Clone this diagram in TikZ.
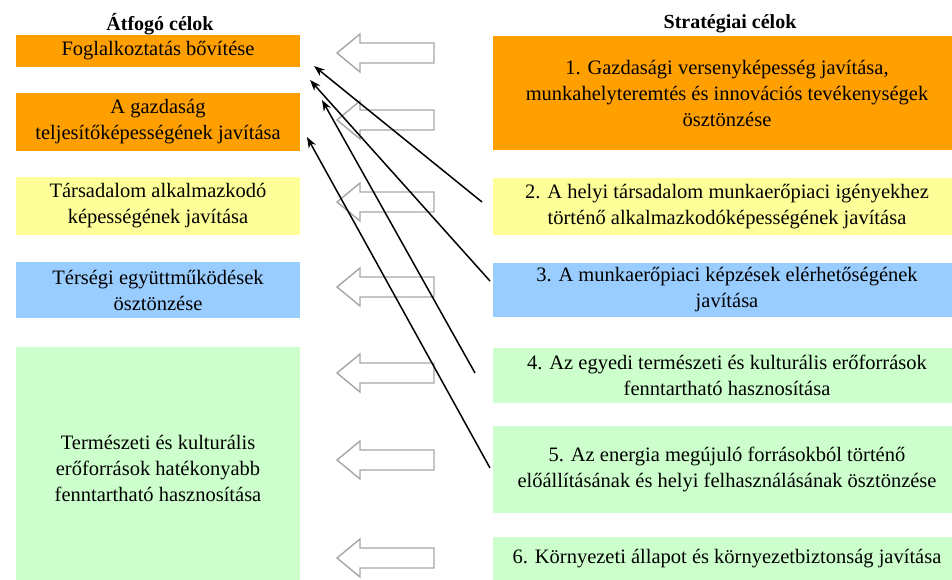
\documentclass[tikz,border=0pt]{standalone}
\usepackage{fontspec}
\setmainfont{Liberation Serif}
\usetikzlibrary{arrows.meta}

\definecolor{celorange}{HTML}{FFA000}
\definecolor{celyellow}{HTML}{FFFF99}
\definecolor{celblue}{HTML}{99CCFF}
\definecolor{celgreen}{HTML}{CCFFCC}
\definecolor{celgray}{HTML}{A6A6A6}

\tikzset{
  cel/.style={align=center, inner sep=0pt, font=\fontsize{20.5}{26}\selectfont},
  leftcel/.style={cel, minimum width=284pt},
  rightcel/.style={cel, minimum width=469pt},
  header/.style={font=\fontsize{20}{24}\selectfont\bfseries},
  blockarrow/.style={draw=celgray, line width=1.4pt, fill=white},
  link/.style={-{Stealth[length=11pt, width=8pt]}, line width=1.5pt, black}
}

\begin{document}
\begin{tikzpicture}[x=1pt, y=-1pt]
	\useasboundingbox (0,0) rectangle (952,580);
	% headers
	\node[header] (hleft) at (160,24) {Átfogó célok};
	\node[header] (hright) at (730,24) {Stratégiai célok};
	% left column
	\node[leftcel, fill=celorange, minimum height=32pt] (l1) at (158,51) {Foglalkoztatás bővítése};
	\node[leftcel, fill=celorange, minimum height=58pt] (l2) at (158,122) {A gazdaság\\ teljesítőképességének javítása};
	\node[leftcel, fill=celyellow, minimum height=58pt] (l3) at (158,206) {Társadalom alkalmazkodó\\ képességének javítása};
	\node[leftcel, fill=celblue, minimum height=56pt] (l4) at (158,290) {Térségi együttműködések\\ ösztönzése};
	\node[leftcel, fill=celgreen, minimum height=243pt] (l5) at (158,468.5) {Természeti és kulturális\\ erőforrások hatékonyabb\\ fenntartható hasznosítása};
	% right column
	\node[rightcel, fill=celorange, minimum height=114pt] (r1) at (727,93) {1. Gazdasági versenyképesség javítása,\\ munkahelyteremtés és innovációs tevékenységek\\ ösztönzése};
	\node[rightcel, fill=celyellow, minimum height=57pt] (r2) at (727,206.5) {2. A helyi társadalom munkaerőpiaci igényekhez\\ történő alkalmazkodóképességének javítása};
	\node[rightcel, fill=celblue, minimum height=54pt] (r3) at (727,290) {3. A munkaerőpiaci képzések elérhetőségének\\ javítása};
	\node[rightcel, fill=celgreen, minimum height=55pt] (r4) at (727,375) {4. Az egyedi természeti és kulturális erőforrások\\ fenntartható hasznosítása};
	\node[rightcel, fill=celgreen, minimum height=87pt] (r5) at (727,469) {5. Az energia megújuló forrásokból történő\\ előállításának és helyi felhasználásának ösztönzése};
	\node[rightcel, fill=celgreen, anchor=north, inner ysep=12pt, text height=14pt, text depth=40pt] (r6) at (727,537) {6. Környezeti állapot és környezetbiztonság javítása};
	% hollow arrows between the columns
	\foreach \y in {53, 120, 202, 287, 373, 460, 558} {
		\draw[blockarrow] (434,\y-10) -- (360,\y-10) -- (360,\y-19) -- (337,\y)
			-- (360,\y+19) -- (360,\y+10) -- (434,\y+10) -- cycle;
	}
	% links
	\coordinate (sA) at (482,202);
	\coordinate (sB) at (490,281);
	\coordinate (sC) at (475,373);
	\coordinate (sD) at (490,468);
	\coordinate (tA) at (314,66);
	\coordinate (tB) at (310,80);
	\coordinate (tC) at (322,100);
	\coordinate (tD) at (307,137);
	\draw[link] (sA) -- (tA);
	\draw[link] (sB) -- (tB);
	\draw[link] (sC) -- (tC);
	\draw[link] (sD) -- (tD);
\end{tikzpicture}
\end{document}
